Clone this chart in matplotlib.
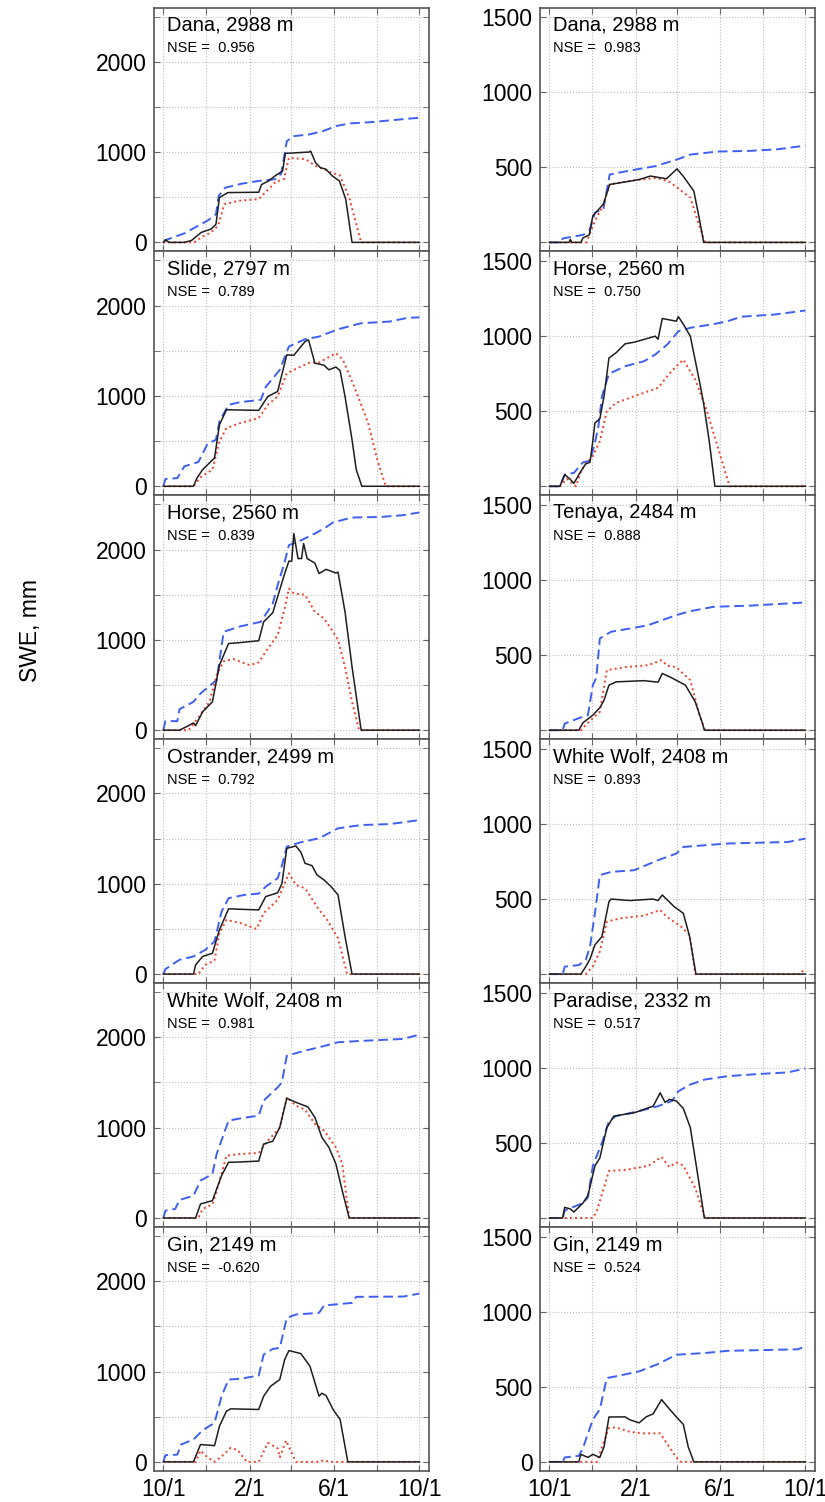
import matplotlib
matplotlib.use("Agg")
import matplotlib.pyplot as plt

plt.rcParams["font.family"] = ["Liberation Sans", "DejaVu Sans"]

# x axis: days since 1 October (water year)
GRID_DAYS = [0, 61, 123, 182, 243, 304, 365]
GRID_LABELS = ["10/1", "", "2/1", "", "6/1", "", "10/1"]

# (day, SWE mm) pairs
# pcp = blue dashed, obs = black solid, mod = red dotted

# left column
l1_pcp = [(0, 0), (5, 30), (30, 100), (63, 240), (75, 310), (79, 515), (88, 605), (112, 650), (136, 680),
          (160, 700), (168, 760), (176, 1120), (185, 1175), (208, 1195), (227, 1230), (246, 1287),
          (265, 1316), (294, 1330), (365, 1380)]
l1_obs = [(0, 0), (3, 30), (8, 0), (30, 0), (40, 20), (54, 110), (68, 147), (75, 200), (80, 496), (92, 551),
          (136, 555), (140, 640), (150, 680), (160, 740), (170, 790), (174, 985), (208, 1000), (210, 1010),
          (217, 882), (224, 827), (232, 809), (241, 735), (251, 680), (260, 478), (269, 0), (365, 0)]
l1_mod = [(0, 0), (44, 0), (54, 55), (68, 110), (78, 184), (87, 423), (107, 460), (136, 478), (145, 550),
          (160, 669), (172, 700), (179, 937), (203, 920), (217, 846), (232, 800), (241, 765), (251, 750),
          (265, 496), (282, 0), (365, 0)]

l2_pcp = [(0, 0), (3, 81), (20, 90), (30, 221), (50, 269), (63, 470), (75, 515), (80, 718), (93, 902),
          (110, 932), (139, 957), (146, 1100), (166, 1289), (179, 1547), (202, 1628), (222, 1657),
          (249, 1738), (282, 1805), (322, 1823), (348, 1864), (365, 1870)]
l2_obs = [(0, 0), (43, 0), (48, 92), (56, 184), (73, 313), (80, 681), (90, 847), (136, 840), (149, 994),
          (163, 1050), (176, 1455), (186, 1450), (202, 1602), (207, 1620), (216, 1363), (229, 1340),
          (236, 1289), (246, 1320), (252, 1280), (259, 994), (269, 515), (275, 184), (283, 0), (365, 0)]
l2_mod = [(0, 0), (43, 0), (53, 100), (70, 184), (80, 497), (90, 645), (110, 700), (136, 755), (149, 902),
          (163, 994), (176, 1252), (189, 1300), (209, 1370), (222, 1370), (246, 1473), (256, 1400),
          (272, 1105), (292, 700), (305, 295), (317, 0), (365, 0)]

l3_pcp = [(0, 0), (3, 100), (20, 100), (23, 232), (43, 314), (53, 406), (70, 517), (76, 550), (86, 1089),
          (110, 1150), (139, 1199), (156, 1402), (163, 1605), (173, 1863), (179, 2048), (196, 2100),
          (216, 2177), (229, 2232), (242, 2300), (269, 2354), (309, 2360), (342, 2380), (365, 2410)]
l3_obs = [(0, 0), (23, 0), (36, 50), (43, 80), (46, 50), (56, 203), (70, 314), (80, 720), (93, 959),
          (110, 970), (136, 990), (143, 1199), (156, 1300), (173, 1734), (179, 1871), (183, 1871),
          (186, 2177), (192, 1900), (197, 1900), (200, 2066), (205, 1900), (216, 1850), (222, 1734),
          (232, 1780), (246, 1740), (249, 1750), (259, 1310), (269, 701), (282, 0), (365, 0)]
l3_mod = [(0, 0), (36, 0), (46, 100), (66, 314), (76, 609), (86, 764), (100, 786), (123, 720), (136, 750),
          (149, 904), (163, 1052), (173, 1350), (179, 1568), (186, 1513), (202, 1500), (216, 1310),
          (229, 1236), (242, 1089), (249, 1000), (259, 701), (269, 314), (279, 0), (365, 0)]

l4_pcp = [(0, 0), (3, 55), (23, 158), (43, 195), (60, 269), (73, 361), (83, 692), (93, 840), (116, 877),
          (136, 890), (146, 968), (163, 1061), (169, 1200), (176, 1411), (196, 1459), (222, 1503),
          (249, 1613), (282, 1650), (322, 1660), (342, 1680), (365, 1705)]
l4_obs = [(0, 0), (43, 0), (46, 100), (56, 195), (70, 230), (80, 490), (93, 722), (136, 710), (146, 858),
          (163, 900), (169, 1000), (176, 1392), (189, 1418), (196, 1350), (202, 1226), (212, 1200),
          (219, 1098), (229, 1042), (239, 969), (249, 877), (259, 416), (269, 0), (365, 0)]
l4_mod = [(0, 0), (50, 0), (60, 103), (73, 150), (80, 453), (90, 600), (110, 564), (133, 500), (143, 674),
          (163, 821), (179, 1116), (189, 987), (202, 950), (222, 711), (232, 619), (242, 490), (249, 398),
          (262, 0), (365, 0)]

l5_pcp = [(0, 0), (3, 81), (17, 100), (23, 199), (43, 247), (53, 413), (70, 487), (76, 708), (93, 1077),
          (110, 1103), (136, 1133), (143, 1299), (163, 1446), (169, 1500), (176, 1797), (202, 1852),
          (222, 1889), (249, 1945), (282, 1960), (342, 1982), (365, 2030)]
l5_obs = [(0, 0), (46, 0), (53, 155), (70, 192), (83, 469), (93, 616), (110, 620), (136, 630), (143, 819),
          (156, 850), (166, 1004), (176, 1325), (189, 1280), (206, 1230), (216, 1114), (226, 893),
          (236, 782), (246, 598), (255, 303), (265, 0), (365, 0)]
l5_mod = [(0, 0), (50, 0), (56, 100), (70, 150), (80, 400), (90, 690), (110, 708), (136, 720), (149, 856),
          (166, 1000), (176, 1336), (189, 1243), (202, 1200), (216, 1041), (229, 967), (246, 782),
          (255, 600), (265, 0), (365, 0)]

l6_pcp = [(0, 0), (3, 74), (20, 80), (25, 192), (43, 247), (56, 350), (73, 432), (83, 727), (93, 911),
          (110, 920), (136, 956), (143, 1188), (156, 1250), (166, 1262), (176, 1594), (189, 1631),
          (222, 1650), (229, 1731), (269, 1760), (275, 1827), (342, 1830), (365, 1863)]
l6_obs = [(0, 0), (43, 0), (53, 192), (73, 180), (80, 395), (90, 561), (96, 587), (136, 580), (143, 727),
          (153, 838), (166, 911), (173, 1133), (179, 1232), (196, 1199), (209, 1059), (222, 727),
          (226, 760), (232, 734), (242, 579), (252, 469), (263, 0), (365, 0)]
l6_mod = [(0, 0), (46, 0), (53, 125), (63, 50), (73, 0), (86, 80), (96, 155), (106, 130), (119, 0),
          (136, 0), (149, 210), (163, 150), (166, 50), (175, 236), (183, 100), (189, 0), (222, 0),
          (229, 20), (236, 0), (365, 0)]

# right column
r1_pcp = [(0, 0), (17, 0), (19, 26), (48, 50), (57, 77), (65, 199), (77, 220), (86, 452), (105, 470),
          (124, 486), (151, 508), (182, 552), (201, 585), (239, 605), (287, 610), (325, 620), (365, 645)]
r1_obs = [(0, 0), (28, 0), (30, 20), (32, 0), (45, 0), (48, 30), (57, 50), (62, 177), (77, 254), (86, 386),
          (115, 408), (129, 420), (144, 442), (167, 424), (182, 490), (191, 440), (206, 342), (213, 177),
          (220, 0), (365, 0)]
r1_mod = [(0, 0), (53, 0), (57, 50), (65, 143), (77, 250), (86, 386), (115, 410), (153, 430), (172, 402),
          (201, 298), (211, 150), (222, 0), (365, 0)]

r2_pcp = [(0, 0), (15, 0), (22, 78), (35, 89), (48, 160), (58, 170), (65, 289), (70, 400), (75, 600),
          (85, 749), (108, 800), (135, 833), (151, 878), (168, 944), (184, 1033), (201, 1056), (234, 1080),
          (254, 1100), (274, 1130), (320, 1144), (365, 1171)]
r2_obs = [(0, 0), (15, 0), (22, 78), (29, 50), (35, 20), (45, 100), (52, 150), (58, 160), (62, 300),
          (65, 422), (72, 450), (78, 600), (85, 855), (95, 889), (108, 949), (121, 960), (151, 1000),
          (155, 980), (161, 1118), (181, 1100), (184, 1130), (191, 1080), (201, 1000), (214, 700),
          (220, 550), (228, 300), (236, 0), (365, 0)]
r2_mod = [(0, 0), (15, 0), (25, 50), (38, 0), (45, 100), (52, 150), (62, 200), (72, 300), (82, 500),
          (95, 556), (121, 600), (155, 656), (168, 733), (181, 800), (191, 844), (208, 711), (224, 511),
          (244, 200), (257, 0), (360, 0), (362, 15), (365, 0)]

r3_pcp = [(0, 0), (19, 0), (22, 44), (42, 80), (55, 100), (62, 300), (67, 350), (72, 611), (88, 656),
          (121, 682), (141, 700), (161, 733), (181, 767), (201, 793), (234, 822), (287, 830), (365, 851)]
r3_obs = [(0, 0), (42, 0), (48, 50), (62, 100), (72, 150), (78, 200), (85, 300), (95, 322), (135, 330),
          (155, 320), (161, 378), (174, 350), (194, 300), (208, 189), (218, 50), (221, 0), (365, 0)]
r3_mod = [(0, 0), (45, 0), (55, 50), (72, 122), (82, 400), (108, 420), (141, 433), (160, 467), (168, 430),
          (181, 420), (201, 333), (214, 100), (222, 0), (365, 0)]

r4_pcp = [(0, 0), (19, 0), (22, 50), (42, 60), (52, 95), (58, 184), (65, 405), (72, 659), (88, 681),
          (121, 692), (155, 759), (181, 803), (191, 847), (221, 858), (254, 870), (340, 880), (365, 903)]
r4_obs = [(0, 0), (45, 0), (52, 50), (58, 100), (65, 195), (75, 250), (85, 482), (88, 500), (115, 490),
          (148, 500), (155, 490), (161, 527), (178, 449), (191, 405), (200, 250), (209, 0), (365, 0)]
r4_mod = [(0, 0), (52, 0), (62, 50), (72, 150), (82, 350), (102, 372), (135, 390), (158, 427), (168, 380),
          (188, 316), (200, 260), (208, 0), (358, 0), (361, 20), (364, 0)]

r5_pcp = [(0, 0), (19, 0), (22, 50), (48, 100), (55, 137), (62, 347), (75, 500), (85, 646), (95, 679),
          (128, 712), (155, 745), (175, 780), (184, 845), (201, 889), (221, 922), (254, 945), (301, 960),
          (340, 970), (365, 996)]
r5_obs = [(0, 0), (19, 0), (22, 71), (30, 60), (35, 40), (48, 100), (55, 150), (65, 347), (72, 400),
          (82, 602), (92, 679), (121, 701), (148, 745), (158, 834), (165, 770), (171, 790), (181, 780),
          (191, 730), (201, 602), (211, 303), (221, 0), (365, 0)]
r5_mod = [(0, 0), (62, 0), (68, 50), (78, 204), (85, 314), (108, 320), (141, 347), (160, 407), (171, 340),
          (181, 370), (191, 350), (208, 200), (222, 0), (365, 0)]

r6_pcp = [(0, 0), (19, 0), (22, 30), (42, 40), (48, 93), (62, 282), (72, 350), (82, 559), (95, 570),
          (128, 603), (155, 652), (181, 714), (221, 725), (254, 740), (354, 750), (365, 769)]
r6_obs = [(0, 0), (42, 0), (45, 50), (55, 30), (62, 50), (72, 30), (78, 100), (85, 299), (108, 300),
          (115, 280), (128, 260), (138, 300), (148, 320), (160, 415), (168, 370), (181, 300), (191, 250),
          (198, 100), (206, 0), (365, 0)]
r6_mod = [(0, 0), (68, 0), (75, 100), (85, 226), (95, 230), (115, 200), (135, 190), (158, 190), (171, 100),
          (181, 30), (188, 0), (365, 0)]

left_sites = ["Dana, 2988 m", "Slide, 2797 m", "Horse, 2560 m", "Ostrander, 2499 m",
              "White Wolf, 2408 m", "Gin, 2149 m"]
left_nse = ["0.956", "0.789", "0.839", "0.792", "0.981", "-0.620"]
right_sites = ["Dana, 2988 m", "Horse, 2560 m", "Tenaya, 2484 m", "White Wolf, 2408 m",
               "Paradise, 2332 m", "Gin, 2149 m"]
right_nse = ["0.983", "0.750", "0.888", "0.893", "0.517", "0.524"]

left_series = [(l1_pcp, l1_obs, l1_mod), (l2_pcp, l2_obs, l2_mod), (l3_pcp, l3_obs, l3_mod),
               (l4_pcp, l4_obs, l4_mod), (l5_pcp, l5_obs, l5_mod), (l6_pcp, l6_obs, l6_mod)]
right_series = [(r1_pcp, r1_obs, r1_mod), (r2_pcp, r2_obs, r2_mod), (r3_pcp, r3_obs, r3_mod),
                (r4_pcp, r4_obs, r4_mod), (r5_pcp, r5_obs, r5_mod), (r6_pcp, r6_obs, r6_mod)]

W, H = 825, 1502
TOP, PANEL_H = 7.5, 243.9


def xy(pts):
    return [p[0] for p in pts], [p[1] for p in pts]


def draw_panel(ax, site, nse, series, left, last):
    pcp, obs, mod = series
    x, y = xy(pcp)
    ax.plot(x, y, color="#3d60f2", lw=1.4, dashes=(5, 2.5), zorder=3)
    x, y = xy(mod)
    ax.plot(x, y, color="#f0402c", lw=1.4, ls=":", zorder=3)
    x, y = xy(obs)
    ax.plot(x, y, color="#1e1e1e", lw=1.1, zorder=4)

    ax.set_xlim(-14, 378)
    ax.set_xticks(GRID_DAYS)
    if last:
        ax.set_xticklabels(GRID_LABELS)
    else:
        ax.set_xticklabels([""] * len(GRID_DAYS))

    if left:
        ax.set_ylim(-100, 2600)
        ax.set_yticks([0, 1000, 2000])
        ax.set_yticks([500, 1500, 2500], minor=True)
    else:
        ax.set_ylim(-60, 1565)
        ax.set_yticks([0, 500, 1000, 1500])
        ax.set_yticklabels(["0" if last else "", "500", "1000", "1500"])

    ax.grid(True, which="both", ls=":", color="#bdbdbd", lw=0.8)
    ax.tick_params(which="both", direction="in", top=True, right=True, length=4,
                   color="#666666", labelsize=16.5, pad=5)
    for s in ax.spines.values():
        s.set_color("#555555")
        s.set_linewidth(1.2)

    ax.text(0.048, 0.928, site, transform=ax.transAxes, fontsize=14.5, va="center", ha="left")
    ax.text(0.048, 0.832, "NSE =  " + nse, transform=ax.transAxes, fontsize=10.5, va="center", ha="left")


fig = plt.figure(figsize=(W / 100, H / 100), dpi=100)

for i in range(6):
    top = TOP + PANEL_H * i
    y0 = 1 - (top + PANEL_H) / H
    axl = fig.add_axes([153.5 / W, y0, 275 / W, PANEL_H / H])
    draw_panel(axl, left_sites[i], left_nse[i], left_series[i], True, i == 5)
    axr = fig.add_axes([539.5 / W, y0, 275 / W, PANEL_H / H])
    draw_panel(axr, right_sites[i], right_nse[i], right_series[i], False, i == 5)

fig.text(30 / W, 1 - 630 / H, "SWE, mm", rotation=90, fontsize=16.5, va="center", ha="center")

fig.savefig("out.png", dpi=100)
